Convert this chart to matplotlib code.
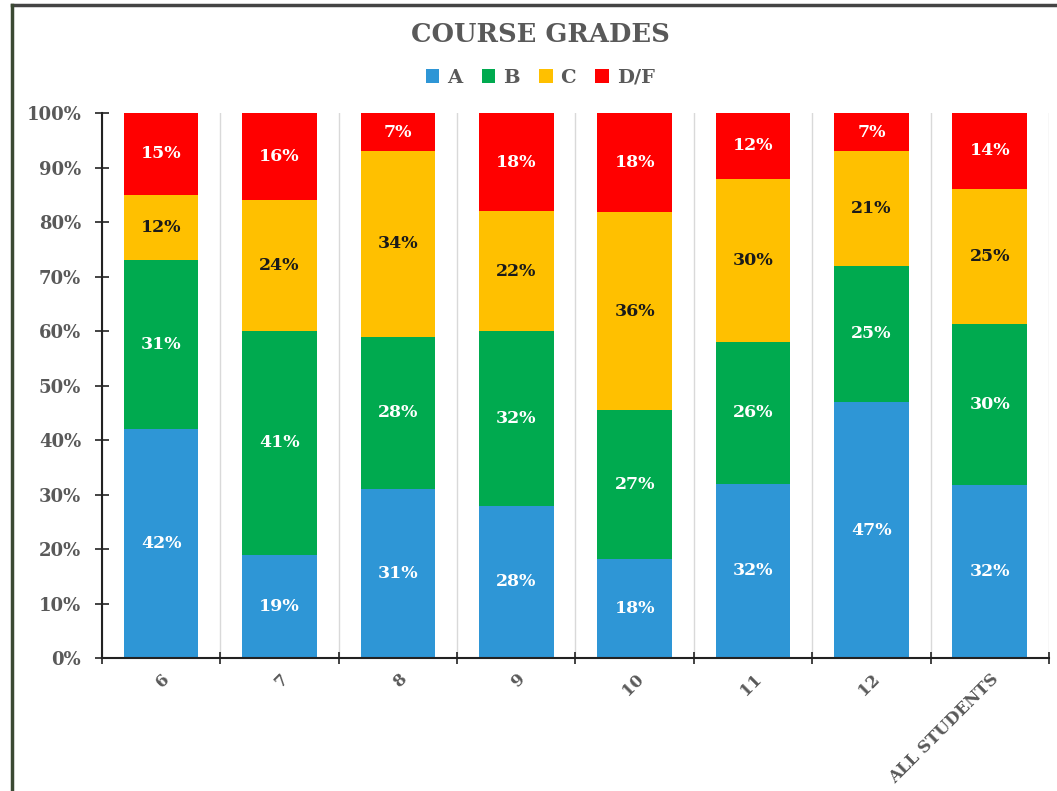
import matplotlib.pyplot as plt
import numpy as np
from matplotlib.lines import Line2D
from matplotlib.ticker import FixedLocator, PercentFormatter

plt.rcParams['font.family'] = ['DejaVu Serif']
plt.rcParams['font.weight'] = 'bold'

grades = ['6', '7', '8', '9', '10', '11', '12', 'ALL STUDENTS']
grade_a = [42, 19, 31, 28, 18, 32, 47, 32]
grade_b = [31, 41, 28, 32, 27, 26, 25, 30]
grade_c = [12, 24, 34, 22, 36, 30, 21, 25]
grade_df = [15, 16, 7, 18, 18, 12, 7, 14]

series = [('A', grade_a, '#2E96D6', 'white'),
          ('B', grade_b, '#00AA4F', 'white'),
          ('C', grade_c, '#FFC000', '#1a1a1a'),
          ('D/F', grade_df, '#FF0000', 'white')]

# 100% stacked: normalise each column to its own total
totals = np.sum([s[1] for s in series], axis=0)

fig = plt.figure(figsize=(10.57, 7.91), dpi=100)
ax = fig.add_axes([0.0965, 0.168, 0.8959, 0.689])

x = np.arange(len(grades))
bottom = np.zeros(len(grades))
for name, vals, color, txt in series:
    share = np.array(vals) / totals * 100
    ax.bar(x, share, 0.63, bottom=bottom, color=color, label=name, zorder=2)
    for xi, b, h, v in zip(x, bottom, share, vals):
        ax.text(xi, b + h / 2, f'{v}%', ha='center', va='center',
                color=txt, fontsize=12.5, fontweight='bold', zorder=3)
    bottom += share

ax.set_xlim(-0.5, len(grades) - 0.5)
ax.set_ylim(0, 100)
ax.yaxis.set_major_locator(FixedLocator(np.arange(0, 101, 10)))
ax.yaxis.set_major_formatter(PercentFormatter(decimals=0))

ax.set_xticks(x)
ax.set_xticklabels(grades, rotation=45, ha='right', rotation_mode='anchor')
ax.set_xticks(np.arange(-0.5, len(grades), 1.0), minor=True)
ax.tick_params(axis='x', which='major', length=0, pad=9, labelsize=12)
ax.tick_params(axis='x', which='minor', length=8, direction='inout', width=1.2, color='#222222')
ax.tick_params(axis='y', length=10, direction='inout', width=1.2, color='#222222',
               pad=10, labelsize=13)
ax.tick_params(labelcolor='#595959')
for lbl in ax.get_xticklabels() + ax.get_yticklabels():
    lbl.set_fontweight('bold')

ax.grid(axis='x', which='minor', color='#d9d9d9', linewidth=1, zorder=0)
ax.grid(axis='x', which='major', visible=False)

for side in ['top', 'right']:
    ax.spines[side].set_visible(False)
for side in ['left', 'bottom']:
    ax.spines[side].set_color('#222222')
    ax.spines[side].set_linewidth(1.5)

fig.text(0.511, 0.957, 'COURSE GRADES', ha='center', va='center',
         fontsize=18.5, fontweight='bold', color='#595959')
fig.legend(loc='center', bbox_to_anchor=(0.511, 0.902), ncol=4, frameon=False,
           handlelength=0.7, handleheight=0.7, handletextpad=0.4, columnspacing=1.0,
           prop={'size': 14, 'weight': 'bold'}, labelcolor='#595959')

# outer frame along the top and left edges
fig.add_artist(Line2D([0.0114, 1.0], [0.9937, 0.9937], color='#444444', linewidth=2.5))
fig.add_artist(Line2D([0.0114, 0.0114], [0.0, 0.9937], color='#3b4a33', linewidth=2.5))

fig.savefig('out.png', dpi=100)
